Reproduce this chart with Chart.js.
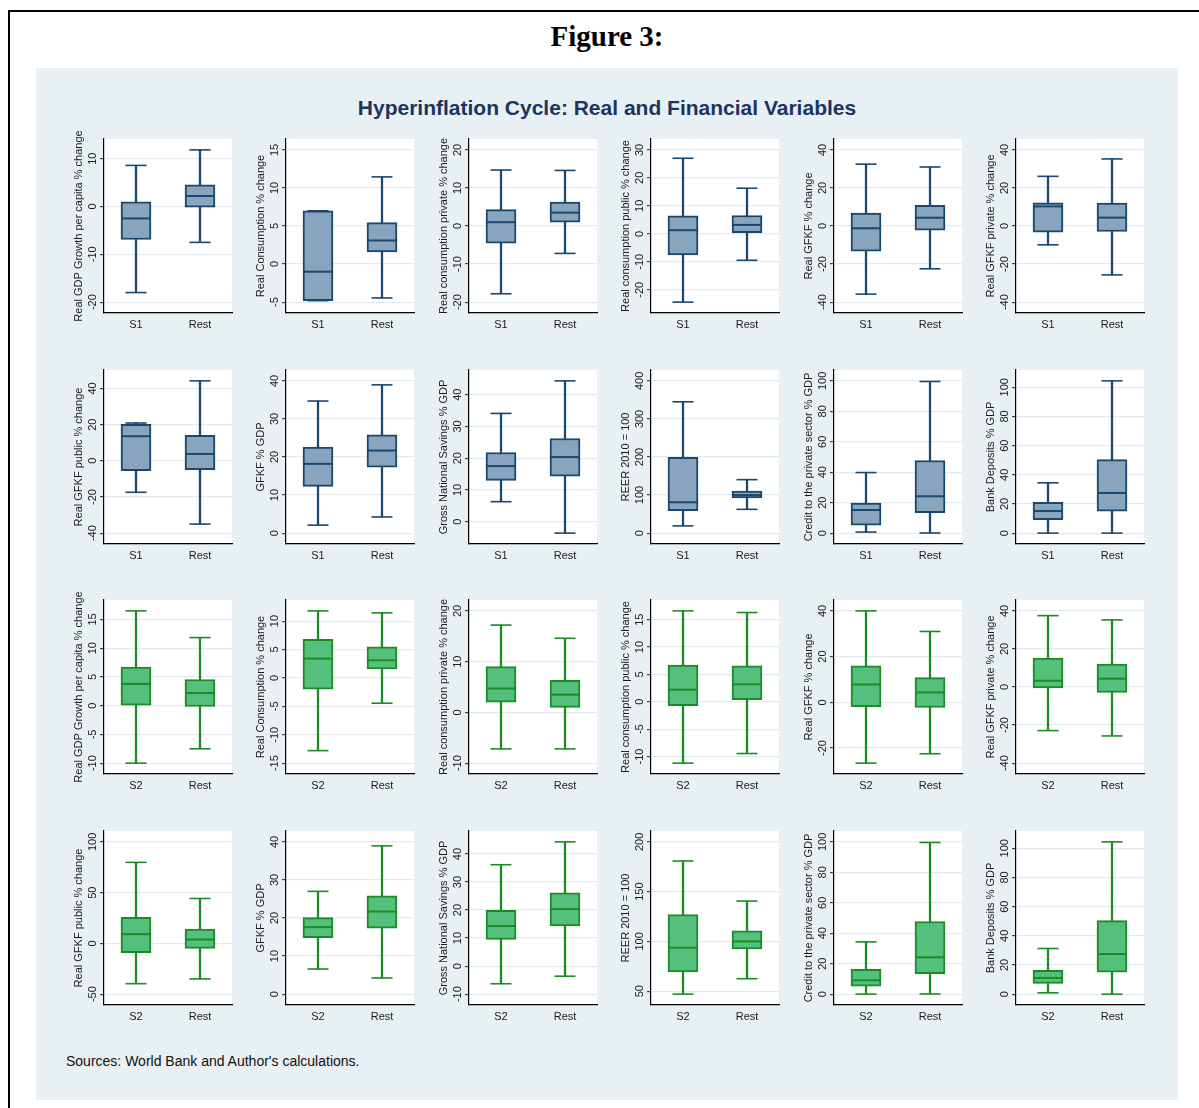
<!DOCTYPE html>
<html>
<head>
<meta charset="utf-8">
<script src="https://cdn.jsdelivr.net/npm/chart.js@4.4.1/dist/chart.umd.min.js"></script>
<style>
body { margin: 0; background: #fff; font-family: "Liberation Sans", Arial, sans-serif; }
#frame { position: absolute; left: 8px; top: 10px; width: 1200px; height: 1110px; border-left: 2px solid #000; border-top: 2px solid #000; }
#fig { position: absolute; left: 0; width: 1214px; top: 20px; line-height: 34px; text-align: center; font: bold 29px "Liberation Serif", "Times New Roman", serif; }
#bg { position: absolute; left: 36px; top: 68px; width: 1142px; height: 1032px; background: #e8f0f3; }
#title { position: absolute; left: 36px; width: 1142px; top: 96px; line-height: 24px; text-align: center; font-weight: bold; font-size: 21px; color: #1c3461; }
#src { position: absolute; left: 66px; top: 1053px; line-height: 16px; font-size: 14px; color: #111; }
canvas { position: absolute; }
</style>
</head>
<body>
<div id="frame"></div>
<div id="fig">Figure 3:</div>
<div id="bg"></div>
<div id="title">Hyperinflation Cycle: Real and Financial Variables</div>
<div id="src">Sources: World Bank and Author's calculations.</div>
<script>
// y-axis titles, one per variable
var titles = [
    'Real GDP Growth per capita % change',
    'Real Consumption % change',
    'Real consumption private % change',
    'Real consumption public % change',
    'Real GFKF % change',
    'Real GFKF private % change',
    'Real GFKF public % change',
    'GFKF % GDP',
    'Gross National Savings % GDP',
    'REER 2010 = 100',
    'Credit to the private sector % GDP',
    'Bank Deposits % GDP'
];

var s1Groups = ['S1', 'Rest'];
var s2Groups = ['S2', 'Rest'];

// box stats: [lower whisker, q1, median, q3, upper whisker]
var restStats = [
    [-7.5, -0.15, 2.2, 4.55, 11.85],
    [-4.45, 1.6, 3.1, 5.45, 11.45],
    [-7.2, 1.0, 3.5, 6.3, 14.6],
    [-9.45, 0.4, 3.2, 6.55, 16.3],
    [-22.5, -2.25, 4.35, 10.8, 31.0],
    [-25.7, -2.9, 4.4, 12.0, 35.25],
    [-35.0, -4.95, 3.8, 14.15, 44.2],
    [4.25, 17.35, 21.7, 25.8, 38.95],
    [-3.6, 14.35, 20.35, 26.2, 44.35],
    [62.5, 92.5, 100, 110.5, 140.5],
    [0.1, 13.4, 24.2, 47.7, 99.6],
    [0, 15.1, 27.5, 50.4, 104.4]
];

var s1Stats = [
    [-18.0, -6.9, -2.5, 1.0, 8.6],
    [-4.8, -4.8, -1.0, 7.0, 7.0],
    [-17.8, -4.5, 1.0, 4.3, 14.7],
    [-24.4, -7.5, 1.3, 6.4, 27.0],
    [-35.8, -13.2, -1.2, 6.8, 32.5],
    [-9.9, -3.3, 10.3, 12.2, 26.1],
    [-17.4, -5.5, 13.6, 20.2, 20.9],
    [2.1, 12.3, 18.2, 22.6, 34.7],
    [6.3, 13.0, 17.5, 21.8, 34.1],
    [19, 59, 81, 199, 345],
    [0.7, 5.2, 15.2, 19.8, 39.8],
    [0, 9.3, 15.2, 21.1, 34.5]
];

var s2Stats = [
    [-10.0, 0, 3.8, 6.7, 16.5],
    [-12.8, -2.0, 3.4, 6.8, 11.8],
    [-7.2, 2.0, 4.7, 9.0, 17.2],
    [-11.2, -0.7, 2.2, 6.7, 16.6],
    [-26.6, -1.9, 7.8, 16.0, 40.0],
    [-22.9, -0.5, 3.3, 15.2, 37.5],
    [-39.7, -9.1, 9.1, 25.7, 79.8],
    [6.6, 14.8, 17.6, 20.1, 27.0],
    [-6.3, 9.5, 14.3, 19.9, 36.2],
    [47.0, 69.3, 93.6, 126.9, 180.8],
    [0, 5.2, 9.1, 16.3, 34.3],
    [0.9, 7.3, 11.1, 16.3, 31.3]
];

// y tick labels
var s1Ticks = [
    [-20, -10, 0, 10],
    [-5, 0, 5, 10, 15],
    [-20, -10, 0, 10, 20],
    [-20, -10, 0, 10, 20, 30],
    [-40, -20, 0, 20, 40],
    [-40, -20, 0, 20, 40],
    [-40, -20, 0, 20, 40],
    [0, 10, 20, 30, 40],
    [0, 10, 20, 30, 40],
    [0, 100, 200, 300, 400],
    [0, 20, 40, 60, 80, 100],
    [0, 20, 40, 60, 80, 100]
];

var s2Ticks = [
    [-10, -5, 0, 5, 10, 15],
    [-15, -10, -5, 0, 5, 10],
    [-10, 0, 10, 20],
    [-10, -5, 0, 5, 10, 15],
    [-20, 0, 20, 40],
    [-40, -20, 0, 20, 40],
    [-50, 0, 50, 100],
    [0, 10, 20, 30, 40],
    [-10, 0, 10, 20, 30, 40],
    [50, 100, 150, 200],
    [0, 20, 40, 60, 80, 100],
    [0, 20, 40, 60, 80, 100]
];

var FONT = '"Liberation Sans", Arial, sans-serif';
var TEXT = '#1a1a1a';
var blue = { fill: '#89a5bd', line: '#1a476f' };
var green = { fill: '#55c07b', line: '#1b8c25' };

var measure = document.createElement('canvas').getContext('2d');
measure.font = '11px ' + FONT;

// white plot region and rotated y title
var panelPlugin = {
    id: 'panel',
    beforeDraw: function(chart, args, opts) {
        var a = chart.chartArea, ctx = chart.ctx;
        ctx.save();
        ctx.fillStyle = '#fff';
        ctx.fillRect(a.left, a.top, a.right - a.left, a.bottom - a.top);
        ctx.translate(a.left - 25, (a.top + a.bottom) / 2);
        ctx.rotate(-Math.PI / 2);
        ctx.font = '11px ' + FONT;
        ctx.fillStyle = TEXT;
        ctx.textAlign = 'center';
        ctx.textBaseline = 'middle';
        ctx.fillText(opts.text, 0, 0);
        ctx.restore();
    }
};

function makePanel(row, col) {
    var v = (row % 2) * 6 + col;
    var top = row < 2;
    var stats = [top ? s1Stats[v] : s2Stats[v], restStats[v]];
    var ticks = top ? s1Ticks[v] : s2Ticks[v];
    var groups = top ? s1Groups : s2Groups;
    var col_ = top ? blue : green;

    var all = ticks.concat(stats[0], stats[1]);
    var lo = Math.min.apply(null, all), hi = Math.max.apply(null, all);
    var pad = 11 * (hi - lo) / 154;

    var widest = 0;
    ticks.forEach(function(t) { widest = Math.max(widest, measure.measureText(String(t)).width); });

    var plotLeft = 104 + col * 182.4, plotTop = 137 + row * 230.7;
    var cv = document.createElement('canvas');
    cv.width = 190; cv.height = 216;
    cv.style.left = Math.round(plotLeft - 46) + 'px';
    cv.style.top = Math.round(plotTop - 14) + 'px';
    document.body.appendChild(cv);

    new Chart(cv.getContext('2d'), {
        type: 'bar',
        data: {
            labels: groups,
            datasets: [
                {
                    type: 'bar', order: 3, grouped: false,
                    data: stats.map(function(s) { return [s[0], s[4]]; }),
                    backgroundColor: col_.line, borderWidth: 0, barThickness: 1.6
                },
                {
                    type: 'bar', order: 2, grouped: false,
                    data: stats.map(function(s) { return [s[1], s[3]]; }),
                    backgroundColor: col_.fill, borderColor: col_.line,
                    borderWidth: 2, borderSkipped: false, barThickness: 30
                },
                {
                    type: 'line', order: 1, showLine: false,
                    data: stats.map(function(s) { return s[2]; }),
                    pointStyle: 'line', pointRadius: 14, pointBorderWidth: 2, pointBorderColor: col_.line
                },
                {
                    type: 'line', order: 1, showLine: false,
                    data: stats.map(function(s) { return s[4]; }),
                    pointStyle: 'line', pointRadius: 10.5, pointBorderWidth: 1.6, pointBorderColor: col_.line
                },
                {
                    type: 'line', order: 1, showLine: false,
                    data: stats.map(function(s) { return s[0]; }),
                    pointStyle: 'line', pointRadius: 10.5, pointBorderWidth: 1.6, pointBorderColor: col_.line
                }
            ]
        },
        options: {
            responsive: false,
            devicePixelRatio: 1,
            animation: false,
            events: [],
            layout: { padding: { top: 14, right: 0, bottom: 0, left: 0 } },
            plugins: {
                legend: { display: false },
                tooltip: { enabled: false },
                panel: { text: titles[v] }
            },
            scales: {
                x: {
                    afterFit: function(s) { s.height = 26; },
                    grid: { display: false, drawTicks: false },
                    border: { color: '#000', width: 1.2 },
                    ticks: { padding: 5, color: TEXT, font: { size: 11, family: FONT } }
                },
                y: {
                    min: lo - pad,
                    max: hi + pad,
                    afterFit: function(s) { s.width = 46; },
                    afterBuildTicks: function(s) { s.ticks = ticks.map(function(t) { return { value: t }; }); },
                    grid: { color: '#e1eaee', lineWidth: 1.2, tickLength: 4, tickColor: '#444' },
                    border: { color: '#000', width: 1.2 },
                    ticks: {
                        minRotation: 90, maxRotation: 90, crossAlign: 'center',
                        padding: 7 - widest / 2,
                        color: TEXT, font: { size: 11, family: FONT }
                    }
                }
            }
        },
        plugins: [panelPlugin]
    });
}

for (var r = 0; r < 4; r++) {
    for (var c = 0; c < 6; c++) {
        makePanel(r, c);
    }
}
</script>
</body>
</html>
